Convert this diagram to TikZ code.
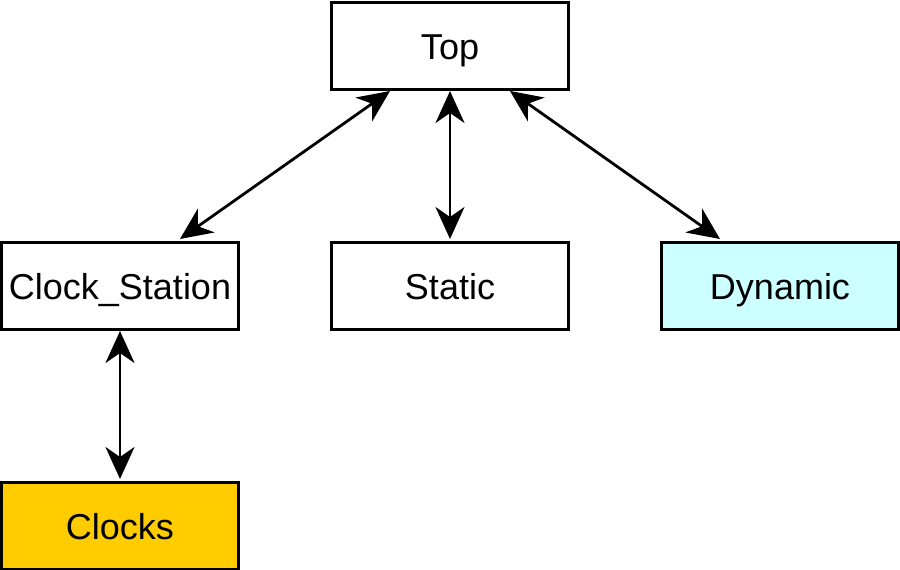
\documentclass[tikz,border=0pt]{standalone}
\usepackage{fontspec}
\setmainfont{Liberation Sans}
\usetikzlibrary{arrows.meta}
\definecolor{cyanfill}{HTML}{CCFFFF}
\definecolor{goldfill}{HTML}{FFCC00}
\begin{document}
\begin{tikzpicture}[x=1pt,y=-1pt,
  box/.style={draw=black,line width=2.8pt,minimum width=237.2pt,minimum height=87.2pt,inner sep=0pt,font=\fontsize{36}{42}\selectfont,text height=26pt,text depth=0pt,anchor=center},
  link/.style={line width=2.8pt,{Stealth[length=32pt,width=29pt,inset=10pt]}-{Stealth[length=32pt,width=29pt,inset=10pt]}}]
\useasboundingbox (0,0) rectangle (900,570);
\node[box] (top) at (450,46) {Top};
\node[box] (cs) at (120,286) {Clock\_Station};
\node[box] (static) at (450,286) {Static};
\node[box,fill=cyanfill] (dyn) at (780,286) {Dynamic};
\node[box,fill=goldfill] (clocks) at (120,526) {Clocks};
\coordinate (t1) at (390,91);
\coordinate (t2) at (450,91);
\coordinate (t3) at (510,91);
\coordinate (c1) at (180,239);
\coordinate (s1) at (450,239);
\coordinate (d1) at (720,239);
\coordinate (cb) at (120,331);
\coordinate (kt) at (120,479);
\draw[link] (t1) -- (c1);
\draw[link] (t2) -- (s1);
\draw[link] (t3) -- (d1);
\draw[link] (cb) -- (kt);
\end{tikzpicture}
\end{document}
